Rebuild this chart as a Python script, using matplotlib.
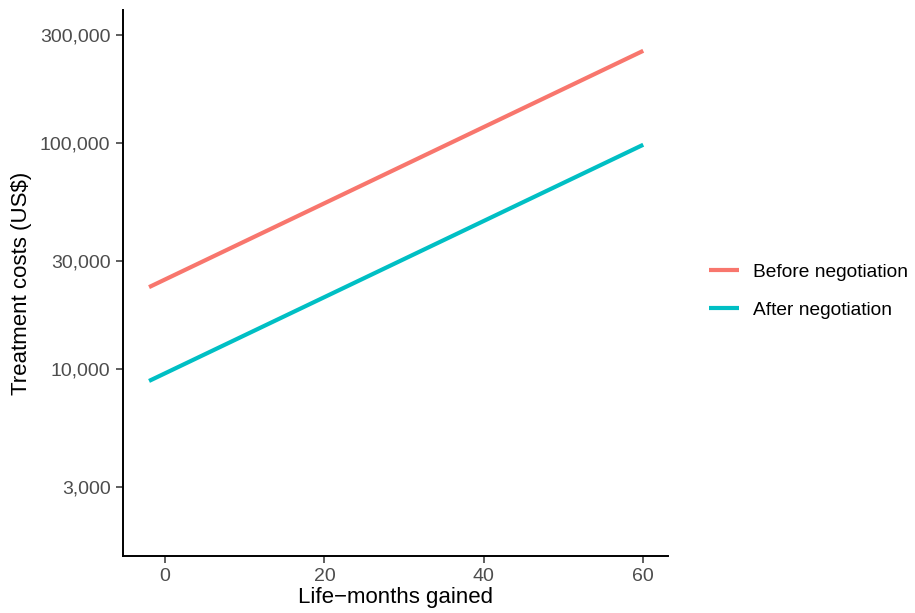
import matplotlib
matplotlib.use("Agg")
import matplotlib.pyplot as plt
from matplotlib.ticker import FixedLocator, FuncFormatter

plt.rcParams['font.family'] = ['Liberation Sans', 'DejaVu Sans']

# data: fitted cost lines (log scale), endpoints
months = [-2, 60]
before_cost = [23000, 255000]
after_cost = [8850, 98000]

y_ticks = [3000, 10000, 30000, 100000, 300000]
x_ticks = [0, 20, 40, 60]

fig = plt.figure(figsize=(9.15, 6.13), dpi=100)
ax = fig.add_axes([0.1344, 0.093, 0.730 - 0.1344, 0.984 - 0.093])

ax.plot(months, before_cost, color="#F8766D", lw=3, label="Before negotiation", solid_capstyle="butt")
ax.plot(months, after_cost, color="#00BFC4", lw=3, label="After negotiation", solid_capstyle="butt")

ax.set_yscale("log")
ax.set_ylim(1490, 387000)
ax.set_xlim(-5.27, 63.1)
ax.yaxis.set_major_locator(FixedLocator(y_ticks))
ax.yaxis.set_minor_locator(FixedLocator([]))
ax.yaxis.set_major_formatter(FuncFormatter(lambda v, p: f"{int(v):,}"))
ax.set_xticks(x_ticks)

for s in ["top", "right"]:
    ax.spines[s].set_visible(False)
for s in ["left", "bottom"]:
    ax.spines[s].set_linewidth(1.4)
    ax.spines[s].set_color("black")

ax.tick_params(axis="both", which="major", length=5, width=1.1, color="#333333",
               labelcolor="#4D4D4D", labelsize=14, pad=4)
ax.set_xlabel("Life\u2212months gained", fontsize=16, color="black", labelpad=1)
ax.set_ylabel("Treatment costs (US$)", fontsize=16, color="black", labelpad=6)

leg = ax.legend(loc="center left", bbox_to_anchor=(1.076, 0.485), frameon=False,
                fontsize=13.8, handlelength=1.55, handletextpad=0.75, labelspacing=1.1,
                borderaxespad=0, borderpad=0)

fig.savefig("out.png", dpi=100)
